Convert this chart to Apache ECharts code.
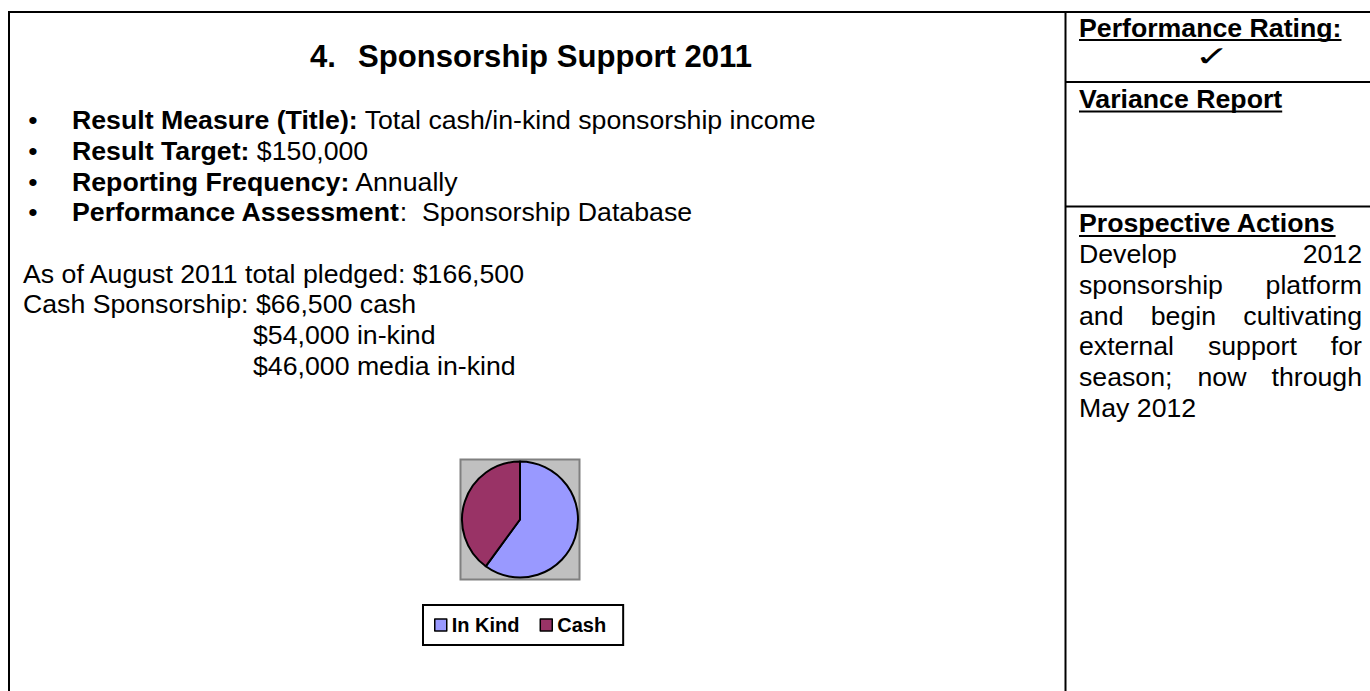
<!DOCTYPE html>
<html>
<head>
<meta charset="utf-8">
<title>Sponsorship Support 2011</title>
<script src="https://cdn.jsdelivr.net/npm/echarts@6/dist/echarts.min.js"></script>
<style>
  html, body { margin: 0; padding: 0; background: #ffffff; }
  #chart { width: 1370px; height: 691px; }
</style>
</head>
<body>
<div id="chart"></div>
<script>
// ---- pie data ----
const categories = ['In Kind', 'Cash'];
// In Kind = $54,000 in-kind + $46,000 media in-kind; Cash = $66,500
const sponsorshipValues = [100000, 66500];
const sliceColors = ['#9999FF', '#993366'];

// ---- report text ----
const titleNumber = '4.';
const titleText = 'Sponsorship Support 2011';
const bulletItems = [
  ['Result Measure (Title):', ' Total cash/in-kind sponsorship income'],
  ['Result Target:', ' $150,000'],
  ['Reporting Frequency:', ' Annually'],
  ['Performance Assessment', ':  Sponsorship Database']
];
const summaryLines = [
  'As of August 2011 total pledged: $166,500',
  'Cash Sponsorship: $66,500 cash',
  '$54,000 in-kind',
  '$46,000 media in-kind'
];
const ratingHeading = 'Performance Rating:';
const ratingMark = '\u2713';
const varianceHeading = 'Variance Report';
const actionsHeading = 'Prospective Actions';
const actionsLines = [
  'Develop 2012',
  'sponsorship platform',
  'and begin cultivating',
  'external support for',
  'season; now through',
  'May 2012'
];

// ---- layout ----
const FAMILY = '"Liberation Sans", Arial, Helvetica, sans-serif';
const BODY = 26.7;       // 12pt body text
const TITLE = 31.1;      // 14pt heading
const PITCH = 30.7;      // single line spacing
const CENTRAL = 0.3465;  // baseline to em-box centre, in em

const measureCtx = document.createElement('canvas').getContext('2d');
function textWidth(s, size, bold) {
  measureCtx.font = (bold ? 'bold ' : '') + size + 'px ' + FAMILY;
  return measureCtx.measureText(s).width;
}

function txt(x, baseline, s, size, bold, align, family) {
  return {
    type: 'text', silent: true, z: 10,
    x: x, y: baseline - CENTRAL * size,
    style: {
      text: s, fill: '#000000',
      fontSize: size, fontFamily: family || FAMILY,
      fontWeight: bold ? 'bold' : 'normal',
      align: align || 'left', textAlign: align || 'left',
      verticalAlign: 'middle', textVerticalAlign: 'middle'
    }
  };
}

function rule(x1, y1, x2, y2, w) {
  return {
    type: 'line', silent: true, z: 5,
    shape: { x1: x1, y1: y1, x2: x2, y2: y2 },
    style: { stroke: '#000000', lineWidth: w || 2 }
  };
}

function underlinedHeading(x, baseline, s) {
  const w = textWidth(s, BODY, true);
  return [
    txt(x, baseline, s, BODY, true),
    rule(x, baseline + 3.2, x + w, baseline + 3.2, 2)
  ];
}

const g = [];

// table borders
g.push(rule(8, 12, 1370, 12, 2));
g.push(rule(9, 11, 9, 691, 2));
g.push(rule(1065.5, 12, 1065.5, 691, 2));
g.push(rule(1065.5, 82, 1370, 82, 2));
g.push(rule(1065.5, 206.5, 1370, 206.5, 2));

// left cell: heading
g.push(txt(310, 67.5, titleNumber, TITLE, true));
g.push(txt(358, 67.5, titleText, TITLE, true));

// left cell: bullet list
const bulletX = 33, bulletTextX = 72, firstBase = 129.5;
bulletItems.forEach(function (item, i) {
  const base = firstBase + PITCH * i;
  g.push(txt(bulletX, base, '\u2022', BODY, false, 'center'));
  g.push(txt(bulletTextX, base, item[0], BODY, true));
  g.push(txt(bulletTextX + textWidth(item[0], BODY, true), base, item[1], BODY, false));
});

// left cell: pledge summary
const summaryX = [23, 23, 253, 253];
summaryLines.forEach(function (line, i) {
  g.push(txt(summaryX[i], firstBase + PITCH * (5 + i), line, BODY, false));
});

// right cell: rating
const rX = 1079, rRight = 1362;
underlinedHeading(rX, 36.8, ratingHeading).forEach(function (e) { g.push(e); });
const mark = txt(1212, 66, ratingMark, 28, false, 'center', '"DejaVu Sans", sans-serif');
mark.scaleX = 1.5;
g.push(mark);

// right cell: variance report
underlinedHeading(rX, 108.3, varianceHeading).forEach(function (e) { g.push(e); });

// right cell: prospective actions (justified paragraph)
const actionsBase = 232.7;
underlinedHeading(rX, actionsBase, actionsHeading).forEach(function (e) { g.push(e); });
actionsLines.forEach(function (line, i) {
  const base = actionsBase + PITCH * (i + 1);
  const words = line.split(' ');
  const last = i === actionsLines.length - 1;
  if (last || words.length < 2) {
    g.push(txt(rX, base, line, BODY, false));
    return;
  }
  const widths = words.map(function (w) { return textWidth(w, BODY, false); });
  const total = widths.reduce(function (a, b) { return a + b; }, 0);
  const gap = (rRight - rX - total) / (words.length - 1);
  let x = rX;
  words.forEach(function (w, k) {
    g.push(txt(x, base, w, BODY, false));
    x += widths[k] + gap;
  });
});

// plot area behind the pie
g.push({
  type: 'rect', silent: true, z: 0,
  shape: { x: 460.5, y: 459.5, width: 119, height: 120 },
  style: { fill: '#C0C0C0', stroke: '#808080', lineWidth: 2 }
});

const chart = echarts.init(document.getElementById('chart'), null, { renderer: 'svg', width: 1370, height: 691 });
chart.setOption({
  animation: false,
  backgroundColor: '#ffffff',
  graphic: { elements: g },
  legend: {
    data: categories,
    left: 423, top: 605,
    orient: 'horizontal',
    icon: 'rect',
    itemWidth: 12, itemHeight: 12, itemGap: 20,
    padding: [10, 17, 10, 11],
    backgroundColor: '#ffffff',
    borderColor: '#000000', borderWidth: 2, borderRadius: 0,
    selectedMode: false,
    itemStyle: { borderColor: '#000000', borderWidth: 1.5 },
    textStyle: { fontFamily: FAMILY, fontWeight: 'bold', fontSize: 20, color: '#000000', padding: [0, 0, 0, 0] }
  },
  series: [{
    type: 'pie',
    center: [520, 519.5],
    radius: 58,
    startAngle: 90,
    clockwise: true,
    silent: true,
    z: 2,
    label: { show: false },
    labelLine: { show: false },
    emphasis: { disabled: true },
    itemStyle: { borderColor: '#000000', borderWidth: 2 },
    data: categories.map(function (name, i) {
      return { name: name, value: sponsorshipValues[i], itemStyle: { color: sliceColors[i] } };
    })
  }]
});
</script>
</body>
</html>
